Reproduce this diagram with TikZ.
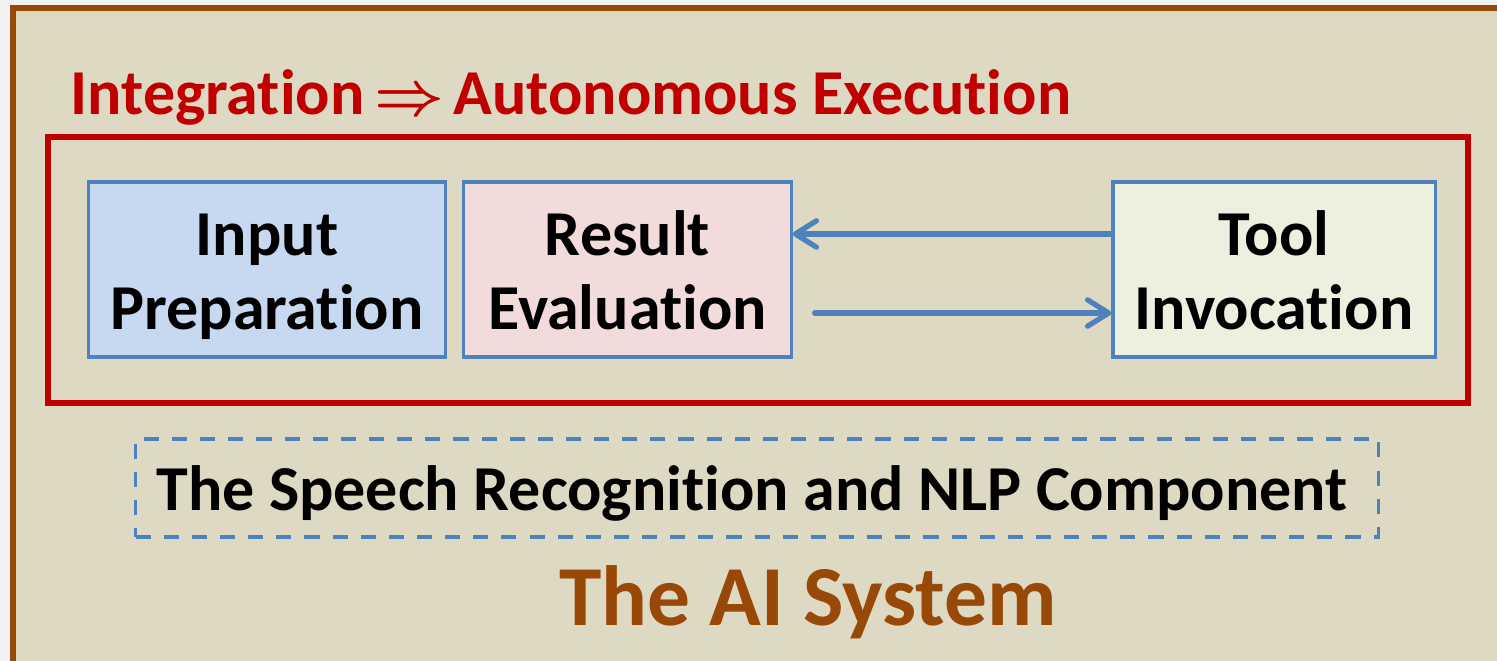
\documentclass[tikz,border=0pt]{standalone}
\usepackage{amsmath}
\usepackage{fontspec}
\setmainfont[Ligatures={NoCommon}]{Carlito}
\usetikzlibrary{arrows.meta,calc}
\definecolor{bgout}{HTML}{F2F2F2}
\definecolor{beige}{HTML}{DED9C3}
\definecolor{frame}{HTML}{984807}
\definecolor{dred}{HTML}{C00000}
\definecolor{bblue}{HTML}{4F81BD}
\definecolor{fblue}{HTML}{C6D9F1}
\definecolor{fpink}{HTML}{F2DCDB}
\definecolor{fgreen}{HTML}{EBF1DE}
\tikzset{
  box/.style={draw=bblue, line width=0.9pt, minimum height=1.75cm, inner sep=0pt},
  boxtext/.style={align=center, font=\fontsize{18.2}{21}\selectfont\bfseries, inner sep=0pt, yshift=-0.08cm},
  flow/.style={draw=bblue, line width=1.5pt, line cap=round,
    -{Straight Barb[length=6pt,width=7.5pt,line cap=round,round]}},
}
\begin{document}
\begin{tikzpicture}[x=0.01cm,y=-0.01cm]
\useasboundingbox (0,0) rectangle (1497,661);
\fill[bgout] (0,0) rectangle (1497,661);
\begin{scope}
\clip (0,0) rectangle (1497,661);
\fill[beige] (13,8) rectangle (1510,680);
\draw[frame, line width=1.7pt] (13,680) -- (13,8) -- (1510,8);
\end{scope}
% title
\node[anchor=base west, text=dred, font=\fontsize{18.2}{21}\selectfont\bfseries, inner sep=0pt]
  (title) at (70,115) {Integration\hspace{-1.4pt} $\boldsymbol{\Rightarrow}$\hspace{-1.4pt} Autonomous Execution};
% red container
\draw[dred, line width=1.7pt] (48,137) rectangle (1468,403);
% boxes
\node[box, fill=fblue, minimum width=3.56cm] (inp) at (267,269.5) {};
\node[box, fill=fpink, minimum width=3.27cm] (res) at (627.5,269.5) {};
\node[box, fill=fgreen, minimum width=3.22cm] (tool) at (1274,269.5) {};
\node[boxtext] (inptext) at (inp.center) {\strut Input\\\strut Preparation};
\node[boxtext] (restext) at (res.center) {\strut Result\\\strut Evaluation};
\node[boxtext] (tooltext) at (tool.center) {\strut Tool\\\strut Invocation};
% arrows
\draw[flow] ([yshift=0.355cm]tool.west) -- ([yshift=0.355cm]res.east);
\coordinate (bstart) at ([xshift=0.22cm,yshift=-0.435cm]res.east);
\draw[flow] (bstart) -- (bstart -| tool.west);
% dashed component
\node[draw=bblue, dashed, dash pattern=on 4.3pt off 3.7pt, line width=1pt,
  minimum width=12.42cm, minimum height=0.98cm, inner sep=0pt] (comp) at (757,488) {};
\node[font=\fontsize{18.2}{21}\selectfont\bfseries, inner sep=0pt, anchor=base]
  (comptext) at (752,510) {The Speech Recognition and NLP Component};
% system label
\node[anchor=base, text=frame, font=\fontsize{24.3}{28}\selectfont\bfseries, inner sep=0pt]
  (sys) at (808,625) {The AI System};
\end{tikzpicture}
\end{document}
